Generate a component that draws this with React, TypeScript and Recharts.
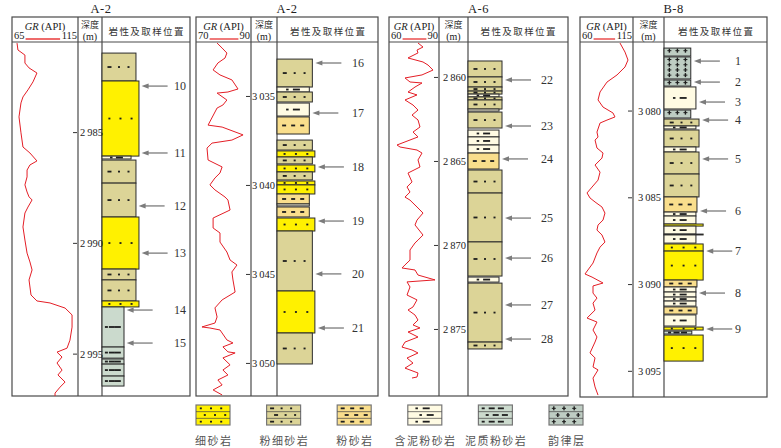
import React from 'react';
import { ScatterChart, ComposedChart, Scatter, XAxis, YAxis, ReferenceArea } from 'recharts';

// ---------- data ----------
type Layer = [number, number, string]; // top depth, bottom depth, lithology key
type GRPt = [number, number]; // depth, GR
type Sample = [number, number]; // sample id, depth

const LITH_KEYS = ['fs', 'sfs', 'ss', 'mss', 'mts', 'rh'];
const LITH_NAMES = ['细砂岩', '粉细砂岩', '粉砂岩', '含泥粉砂岩', '泥质粉砂岩', '韵律层'];

const A2U_TICKS = [2985, 2990, 2995];
const A2U_LAYERS: Layer[] = [
  [2981.41, 2982.67, 'sfs'], [2982.67, 2986.06, 'fs'], [2986.06, 2986.19, 'mss'],
  [2986.24, 2987.28, 'sfs'], [2987.28, 2988.81, 'sfs'], [2988.81, 2991.16, 'fs'],
  [2991.16, 2991.65, 'sfs'], [2991.65, 2992.6, 'sfs'], [2992.6, 2992.87, 'fs'],
  [2992.87, 2994.68, 'mts'], [2994.68, 2995.18, 'mts'], [2995.22, 2995.45, 'mts'],
  [2995.45, 2995.99, 'mts'], [2995.99, 2996.44, 'mts'],
];
const A2U_SAMPLES: Sample[] = [[10, 2982.9], [11, 2985.92], [12, 2988.31], [13, 2990.44], [14, 2993.01], [15, 2994.5]];
const A2U_GR: GRPt[] = [
  [2980.96, 68.8], [2981.27, 69.5], [2981.5, 74.8], [2981.86, 74.8], [2982.08, 77.9], [2982.31, 83.9],
  [2982.71, 80.9], [2983.07, 77.1], [2983.39, 73.3], [2983.66, 71.8], [2984.29, 70.3], [2985.01, 71.8],
  [2985.65, 73.3], [2985.92, 78.6], [2986.28, 83.9], [2986.46, 78.6], [2986.69, 76.4], [2987.0, 76.4],
  [2987.36, 74.8], [2987.68, 76.4], [2987.9, 77.9], [2988.04, 80.2], [2988.36, 77.1], [2988.63, 74.8],
  [2989.26, 73.3], [2989.85, 74.8], [2990.44, 76.4], [2990.84, 78.6], [2991.2, 80.2], [2991.65, 77.9],
  [2992.33, 79.4], [2992.6, 83.9], [2992.69, 93.8], [2992.92, 105.2], [2993.23, 110.5], [2993.78, 110.5],
  [2994.37, 108.9], [2994.73, 106.7], [2994.91, 99.1], [2995.13, 102.9], [2995.4, 99.1], [2995.72, 102.9],
  [2995.94, 99.8], [2996.26, 105.2], [2996.49, 101.4], [2996.76, 97.6], [2996.89, 97.6],
];

const A2L_TICKS = [3035, 3040, 3045, 3050];
const A2L_LAYERS: Layer[] = [
  [3032.9, 3034.47, 'sfs'], [3034.47, 3034.75, 'mss'], [3034.75, 3035.31, 'sfs'],
  [3035.37, 3036.1, 'mss'], [3036.15, 3037.11, 'ss'], [3037.45, 3038.01, 'sfs'],
  [3038.06, 3038.4, 'fs'], [3038.4, 3038.79, 'sfs'], [3038.85, 3039.24, 'fs'],
  [3039.24, 3039.69, 'sfs'], [3039.75, 3039.97, 'fs'], [3039.97, 3040.48, 'fs'],
  [3040.48, 3041.04, 'ss'], [3041.04, 3041.15, 'mss'], [3041.21, 3041.77, 'ss'],
  [3041.83, 3042.56, 'fs'], [3042.56, 3045.93, 'sfs'], [3045.93, 3048.29, 'fs'],
  [3048.29, 3050.03, 'sfs'],
];
const A2L_SAMPLES: Sample[] = [[16, 3033.12], [17, 3035.93], [18, 3038.96], [19, 3042.0], [20, 3044.97], [21, 3048.01]];
const A2L_GR: GRPt[] = [
  [3032.0, 77.2], [3032.28, 79.1], [3032.56, 80.9], [3032.84, 80.2], [3033.12, 77.5], [3033.51, 75.7],
  [3033.79, 78.3], [3034.07, 82.8], [3034.58, 85.1], [3034.75, 81.3], [3034.81, 77.2], [3035.2, 80.9],
  [3035.48, 79.4], [3035.65, 77.2], [3036.61, 73.8], [3036.72, 79.1], [3037.16, 87.0], [3037.45, 82.8],
  [3037.62, 75.3], [3037.9, 73.4], [3038.57, 73.8], [3038.96, 79.1], [3039.3, 78.3], [3039.58, 76.4],
  [3039.97, 74.5], [3040.25, 76.4], [3040.65, 80.2], [3040.82, 81.3], [3041.38, 82.1], [3041.83, 75.7],
  [3042.39, 75.7], [3042.67, 78.3], [3043.18, 78.3], [3043.74, 80.9], [3044.19, 82.1], [3044.47, 84.7],
  [3044.86, 82.8], [3045.31, 83.2], [3045.99, 84.0], [3046.43, 79.1], [3046.88, 76.4], [3047.39, 77.2],
  [3047.73, 76.4], [3047.95, 71.5], [3048.01, 74.5], [3048.12, 78.3], [3048.68, 80.9], [3048.85, 83.2],
  [3049.07, 79.4], [3049.35, 81.3], [3049.41, 84.0], [3049.69, 79.4], [3050.08, 82.1], [3050.37, 79.4],
  [3050.65, 81.3], [3050.93, 77.5], [3051.21, 79.1], [3051.49, 75.7], [3051.77, 79.1],
];

const A6_TICKS = [2860, 2865, 2870, 2875];
const A6_LAYERS: Layer[] = [
  [2859.02, 2859.97, 'sfs'], [2859.97, 2860.57, 'sfs'], [2860.57, 2860.81, 'sfs'],
  [2860.81, 2860.99, 'sfs'], [2860.99, 2861.16, 'mss'], [2861.16, 2861.34, 'sfs'],
  [2861.34, 2861.88, 'sfs'], [2861.88, 2862.0, 'mss'], [2862.06, 2863.01, 'sfs'],
  [2863.13, 2863.54, 'mss'], [2863.54, 2864.02, 'mss'], [2864.02, 2864.5, 'mss'],
  [2864.5, 2865.45, 'ss'], [2865.51, 2866.88, 'sfs'], [2866.88, 2869.79, 'sfs'],
  [2869.79, 2871.82, 'sfs'], [2871.88, 2872.18, 'mss'], [2872.24, 2875.75, 'sfs'],
  [2875.75, 2876.16, 'sfs'],
];
const A6_SAMPLES: Sample[] = [[22, 2860.15], [23, 2862.89], [24, 2864.85], [25, 2868.37], [26, 2870.75], [27, 2873.54], [28, 2875.57]];
const A6_GR: GRPt[] = [
  [2857.95, 77.4], [2858.19, 80.4], [2858.37, 76.8], [2858.54, 77.4], [2858.84, 71.4], [2859.08, 80.4],
  [2859.26, 83.4], [2859.56, 86.4], [2859.85, 79.8], [2860.03, 69.6], [2860.27, 72.6], [2860.33, 79.8],
  [2860.57, 75.6], [2860.87, 71.4], [2861.04, 76.8], [2861.34, 69.6], [2861.64, 74.4], [2861.94, 77.4],
  [2862.24, 73.8], [2862.53, 77.4], [2862.95, 78.6], [2863.25, 74.4], [2863.54, 77.4], [2864.02, 64.8],
  [2864.14, 66.6], [2864.32, 76.8], [2864.5, 79.8], [2864.91, 77.4], [2865.33, 78.6], [2865.69, 71.4],
  [2866.22, 73.8], [2866.52, 70.8], [2866.82, 72.6], [2867.12, 69.6], [2867.3, 72.6], [2867.71, 76.8],
  [2868.07, 80.4], [2868.49, 76.8], [2868.78, 75.6], [2869.38, 80.4], [2869.68, 77.4], [2869.85, 75.6],
  [2870.27, 72.6], [2870.87, 72.6], [2871.16, 69.6], [2871.34, 67.8], [2871.46, 75.6], [2871.76, 77.4],
  [2872.05, 87.6], [2872.17, 70.8], [2872.47, 72.6], [2872.95, 70.8], [2873.24, 76.8], [2873.66, 74.4],
  [2873.84, 71.4], [2874.14, 75.6], [2874.44, 77.4], [2874.73, 74.4], [2874.91, 78.6], [2875.15, 71.4],
  [2875.45, 77.4], [2875.75, 69.6], [2876.05, 67.8], [2876.22, 73.8], [2876.4, 77.4], [2876.7, 70.8],
  [2877.0, 74.4], [2877.3, 69.6], [2877.59, 77.4], [2877.83, 76.8], [2877.89, 73.8],
];

const B8_TICKS = [3080, 3085, 3090, 3095];
const B8_LAYERS: Layer[] = [
  [3076.37, 3076.83, 'rh'], [3076.88, 3078.15, 'rh'], [3078.21, 3078.56, 'rh'],
  [3078.61, 3079.88, 'mss'], [3079.94, 3080.4, 'rh'], [3080.46, 3080.86, 'sfs'],
  [3080.86, 3081.03, 'mss'], [3081.09, 3082.07, 'sfs'], [3082.07, 3082.36, 'mss'],
  [3082.36, 3083.63, 'sfs'], [3083.63, 3084.95, 'sfs'], [3084.95, 3085.82, 'ss'],
  [3085.82, 3086.05, 'mss'], [3086.05, 3086.51, 'mss'], [3086.51, 3086.63, 'fs'],
  [3086.63, 3087.09, 'mss'], [3087.09, 3087.14, 'fs'], [3087.14, 3087.61, 'mss'],
  [3087.66, 3088.07, 'fs'], [3088.07, 3089.74, 'fs'], [3089.74, 3090.14, 'ss'],
  [3090.14, 3090.43, 'mss'], [3090.43, 3090.72, 'mss'], [3090.72, 3090.95, 'mss'],
  [3090.95, 3091.24, 'mss'], [3091.29, 3091.7, 'ss'], [3091.75, 3092.39, 'mss'],
  [3092.45, 3092.62, 'fs'], [3092.68, 3092.85, 'mts'], [3092.91, 3094.41, 'fs'],
];
const B8_SAMPLES: Sample[] = [[1, 3077.12], [2, 3078.33], [3, 3079.48], [4, 3080.52], [5, 3082.76], [6, 3085.76], [7, 3088.07], [8, 3090.49], [9, 3092.56]];
const B8_GR: GRPt[] = [
  [3076.08, 101.5], [3076.6, 106.7], [3077.06, 109.8], [3077.46, 106.7], [3077.92, 98.4], [3078.33, 88.0],
  [3078.9, 80.8], [3079.36, 78.7], [3079.77, 83.9], [3080.11, 94.2], [3080.34, 96.3], [3080.52, 88.0],
  [3080.69, 80.8], [3081.21, 77.6], [3081.5, 78.7], [3081.67, 75.6], [3082.13, 77.6], [3082.42, 83.9],
  [3082.71, 82.8], [3083.11, 75.6], [3083.52, 80.8], [3083.98, 78.7], [3084.38, 72.5], [3084.72, 67.3],
  [3085.01, 70.4], [3085.24, 75.6], [3085.53, 82.8], [3085.88, 85.9], [3086.28, 83.9], [3086.57, 78.7],
  [3086.86, 77.6], [3087.14, 82.8], [3087.55, 85.9], [3087.84, 80.8], [3088.18, 77.6], [3088.76, 73.5],
  [3089.39, 65.2], [3089.57, 72.5], [3089.91, 83.9], [3090.08, 73.5], [3090.49, 73.5], [3090.78, 77.6],
  [3091.07, 73.5], [3091.47, 75.6], [3091.93, 67.3], [3092.16, 77.6], [3092.62, 73.5], [3093.02, 77.6],
  [3093.31, 75.6], [3093.94, 70.4], [3094.23, 75.6], [3094.75, 73.5], [3094.92, 78.7], [3095.39, 73.5],
  [3095.9, 75.6], [3096.37, 78.7],
];

// ---------- styles / layout ----------
const SERIF = "'Liberation Serif','Times New Roman',serif";
const CJK = "'Noto Sans CJK SC','Noto Sans CJK JP',sans-serif";
const FRAME = '#4a4a4a';
const FILL: Record<string, string> = {
  fs: '#FFF100', sfs: '#DCD497', ss: '#F9DE8C', mss: '#FFFBE3', mts: '#CBDACD', rh: '#BECDC3',
};
const SYM: Record<string, Array<[number, number]>> = {
  fs: [[0.2, 2], [0.5, 2], [0.8, 2]],
  sfs: [[0.22, 4], [0.5, 2], [0.78, 2]],
  ss: [[0.22, 4], [0.5, 4], [0.78, 4]],
  mss: [[0.32, 2.5], [0.6, 7]],
  mts: [[0.2, 3], [0.45, 6], [0.72, 6]],
};

const TOP = 17;
const HEAD = 42;

type Panel = {
  title: string; left: number; d1: number; d2: number; right: number; bottom: number;
  gr: [number, number]; grX: [number, number]; depth: [number, number];
  ticks: number[]; layers: Layer[]; samples: Sample[]; grData: GRPt[];
  widths: Record<string, number>; tickDx: number; labelDx: number;
};

const PANELS: Panel[] = [
  {
    title: 'A-2', left: 12, d1: 78, d2: 102, right: 190, bottom: 396,
    gr: [65, 115], grX: [12, 78], depth: [2980.91, 2996.89], ticks: A2U_TICKS,
    layers: A2U_LAYERS, samples: A2U_SAMPLES, grData: A2U_GR,
    widths: { fs: 42, sfs: 38.6, ss: 35, mss: 33, mts: 25, rh: 25 }, tickDx: 2, labelDx: 78,
  },
  {
    title: 'A-2', left: 196, d1: 251, d2: 277, right: 378, bottom: 396,
    gr: [70, 90], grX: [198, 251], depth: [3031.94, 3051.83], ticks: A2L_TICKS,
    layers: A2L_LAYERS, samples: A2L_SAMPLES, grData: A2L_GR,
    widths: { fs: 37.5, sfs: 35, ss: 32, mss: 32, mts: 26, rh: 26 }, tickDx: 1, labelDx: 81,
  },
  {
    title: 'A-6', left: 389, d1: 439, d2: 468, right: 568, bottom: 396,
    gr: [60, 90], grX: [389, 439], depth: [2857.89, 2878.96], ticks: A6_TICKS,
    layers: A6_LAYERS, samples: A6_SAMPLES, grData: A6_GR,
    widths: { fs: 37, sfs: 34, ss: 31, mss: 31, mts: 26, rh: 26 }, tickDx: 4, labelDx: 79,
  },
  {
    title: 'B-8', left: 580, d1: 633, d2: 664, right: 767, bottom: 397,
    gr: [60, 115], grX: [580, 633], depth: [3076.02, 3096.48], ticks: B8_TICKS,
    layers: B8_LAYERS, samples: B8_SAMPLES, grData: B8_GR,
    widths: { fs: 38, sfs: 34, ss: 32, mss: 31, mts: 27, rh: 26 }, tickDx: 5, labelDx: 74,
  },
];

// ---------- drawing helpers ----------
function symbolRow(kind: string, x: number, cy: number, w: number, keyBase: string) {
  const c = '#1e1e1e';
  if (kind === 'rh') {
    return [0.2, 0.5, 0.8].map((p, i) => {
      const xx = x + w * p;
      return (
        <g key={`${keyBase}-${i}`}>
          <rect x={xx - 0.7} y={cy - 2} width={1.4} height={4} fill={c} />
          <rect x={xx - 2} y={cy - 0.5} width={4} height={1} fill={c} />
        </g>
      );
    });
  }
  return (SYM[kind] || []).map(([p, len], i) => (
    <rect key={`${keyBase}-${i}`} x={x + w * p - len / 2} y={cy - 0.9} width={len} height={1.8} fill={c} />
  ));
}

function layerShape(kind: string) {
  return (props: any) => {
    const { x, y, width, height } = props;
    if (x == null || y == null) return <g />;
    const syms: any[] = [];
    if (kind === 'rh') {
      for (let yy = y + 2.6; yy <= y + height - 1.5; yy += 5.2) syms.push(...symbolRow(kind, x, yy, width, `r${yy}`));
    } else if (height >= 2.5) {
      syms.push(...symbolRow(kind, x, y + height / 2, width, 's'));
    }
    return (
      <g>
        <rect x={x} y={y} width={width} height={height} fill={FILL[kind]} stroke="#2b2b2b" strokeWidth={1} />
        {syms}
      </g>
    );
  };
}

function fmtDepth(v: number) {
  const s = String(v);
  return s.slice(0, s.length - 3) + '\u2009' + s.slice(-3);
}

function depthTick(tickDx: number) {
  return (props: any) => {
    const { y, payload } = props;
    return (
      <g>
        <line x1={1} x2={5} y1={y} y2={y} stroke="#333" strokeWidth={1} />
        <text x={6 + tickDx} y={y} dy="0.35em" fontSize={10.5} fontFamily={SERIF} fill="#222" textAnchor="start">
          {fmtDepth(payload.value)}
        </text>
      </g>
    );
  };
}

function arrowShape(labelX: number) {
  return (props: any) => {
    const { cx, cy, payload } = props;
    if (cx == null || cy == null) return <g />;
    return (
      <g>
        <line x1={cx + 5} y1={cy} x2={cx + 26} y2={cy} stroke="#7c7c7c" strokeWidth={1.3} />
        <polygon points={`${cx},${cy} ${cx + 7},${cy - 2.6} ${cx + 7},${cy + 2.6}`} fill="#7c7c7c" />
        <text x={labelX} y={cy} dy="0.36em" textAnchor="middle" fontSize={12} fontFamily={SERIF} fill="#333">
          {payload.id}
        </text>
      </g>
    );
  };
}

function layerAt(layers: Layer[], d: number): Layer {
  const hit = layers.find((l) => d >= l[0] && d <= l[1]);
  if (hit) return hit;
  let best = layers[0];
  let bd = Infinity;
  layers.forEach((l) => {
    const dist = Math.min(Math.abs(d - l[0]), Math.abs(d - l[1]));
    if (dist < bd) { bd = dist; best = l; }
  });
  return best;
}

function PanelCharts({ p }: { p: Panel }) {
  const h = p.bottom - HEAD;
  const grData = p.grData.map(([depth, gr]) => ({ depth, gr }));
  const chartLeft = p.d1 - 6;
  const yW = p.d2 - chartLeft;
  const lithW = p.right - chartLeft;
  const arrows = p.samples.map(([id, depth]) => {
    const l = layerAt(p.layers, depth);
    return { id, y: depth, x: p.widths[l[2]] + 3 };
  });
  return (
    <>
      <div style={{ position: 'absolute', left: p.grX[0], top: HEAD }}>
        <ScatterChart width={p.grX[1] - p.grX[0]} height={h} margin={{ top: 0, right: 0, bottom: 0, left: 0 }}>
          <XAxis type="number" dataKey="gr" domain={p.gr} hide allowDataOverflow />
          <YAxis type="number" dataKey="depth" domain={p.depth} reversed hide width={0} allowDataOverflow />
          <Scatter
            data={grData}
            line={{ stroke: '#E41E26', strokeWidth: 1 }}
            lineType="joint"
            shape={() => <g />}
            isAnimationActive={false}
          />
        </ScatterChart>
      </div>
      <div style={{ position: 'absolute', left: chartLeft, top: HEAD }}>
        <ComposedChart width={lithW} height={h} margin={{ top: 0, right: 0, bottom: 0, left: 0 }}>
          <XAxis type="number" dataKey="x" domain={[0, 100]} hide allowDataOverflow />
          <YAxis
            type="number"
            dataKey="y"
            domain={p.depth}
            reversed
            allowDataOverflow
            width={yW}
            ticks={p.ticks}
            interval={0}
            axisLine={false}
            tickLine={false}
            tick={depthTick(p.tickDx)}
          />
          {p.layers.map(([t, b, k], i) => (
            <ReferenceArea
              key={i}
              x1={0}
              x2={p.widths[k]}
              y1={t}
              y2={b}
              ifOverflow="visible"
              shape={layerShape(k)}
            />
          ))}
          <Scatter data={arrows} shape={arrowShape(yW + p.labelDx)} isAnimationActive={false} />
        </ComposedChart>
      </div>
    </>
  );
}

function PanelFrame({ p }: { p: Panel }) {
  const grMid = (p.left + p.d1) / 2;
  const dMid = (p.d1 + p.d2) / 2;
  const lMid = (p.d2 + p.right) / 2;
  const lo = String(p.gr[0]);
  const hi = String(p.gr[1]);
  const nx0 = p.left + 2;
  const nx1 = p.d1 - 1;
  return (
    <g>
      <text x={(p.left + p.right) / 2} y={13} textAnchor="middle" fontSize={12.5} fontFamily={SERIF} fill="#222" letterSpacing={0.5}>
        {p.title}
      </text>
      <rect x={p.left} y={TOP} width={p.right - p.left} height={p.bottom - TOP} fill="none" stroke={FRAME} strokeWidth={1.2} />
      <line x1={p.left} x2={p.right} y1={HEAD} y2={HEAD} stroke={FRAME} strokeWidth={1.2} />
      <line x1={p.d1} x2={p.d1} y1={TOP} y2={p.bottom} stroke={FRAME} strokeWidth={1.2} />
      <line x1={p.d2} x2={p.d2} y1={TOP} y2={p.bottom} stroke={FRAME} strokeWidth={1.2} />
      <text x={grMid} y={29.5} textAnchor="middle" fontSize={10.5} fontFamily={SERIF} fill="#222">
        <tspan fontStyle="italic">GR</tspan>
        <tspan> (API)</tspan>
      </text>
      <text x={nx0} y={39} textAnchor="start" fontSize={10.5} fontFamily={SERIF} fill="#222">{lo}</text>
      <text x={nx1} y={39} textAnchor="end" fontSize={10.5} fontFamily={SERIF} fill="#222">{hi}</text>
      <line x1={nx0 + lo.length * 5.3 + 1} x2={nx1 - hi.length * 5.3 - 1} y1={39} y2={39} stroke="#EE6B6B" strokeWidth={1.8} />
      <text x={dMid} y={28} textAnchor="middle" fontSize={9} fontFamily={CJK} fill="#333">深度</text>
      <text x={dMid} y={39.5} textAnchor="middle" fontSize={10} fontFamily={SERIF} fill="#222">(m)</text>
      <text x={lMid + 0.7} y={34.5} textAnchor="middle" fontSize={9.5} fontFamily={CJK} fill="#333" letterSpacing={1.4}>
        岩性及取样位置
      </text>
    </g>
  );
}

function LegendIcon({ kind, x, y }: { kind: string; x: number; y: number }) {
  const w = 34;
  const h = 20;
  const rows = [y + h / 6, y + h / 2, y + (5 * h) / 6];
  return (
    <g>
      <rect x={x} y={y} width={w} height={h} fill={FILL[kind]} stroke="#777" strokeWidth={1.2} />
      <line x1={x} x2={x + w} y1={y + h / 3} y2={y + h / 3} stroke="#444" strokeWidth={0.7} />
      <line x1={x} x2={x + w} y1={y + (2 * h) / 3} y2={y + (2 * h) / 3} stroke="#444" strokeWidth={0.7} />
      {rows.map((cy, i) => (
        <g key={i}>{symbolRow(kind, x + (i % 2 ? 2 : -2), cy, w, `lg${i}`)}</g>
      ))}
    </g>
  );
}

export default function App() {
  return (
    <div style={{ position: 'absolute', left: 0, top: 0, width: 781, height: 448, background: '#fff', overflow: 'hidden' }}>
      <svg width={781} height={448} style={{ position: 'absolute', left: 0, top: 0 }}>
        {PANELS.map((p, i) => (
          <PanelFrame key={i} p={p} />
        ))}
        {LITH_KEYS.map((k, i) => {
          const x = 196 + i * 70.6;
          return (
            <g key={k}>
              <LegendIcon kind={k} x={x} y={405} />
              <text x={x + 17 + 0.7} y={445} textAnchor="middle" fontSize={11} fontFamily={CJK} fill="#555" letterSpacing={1.4}>
                {LITH_NAMES[i]}
              </text>
            </g>
          );
        })}
      </svg>
      {PANELS.map((p, i) => (
        <PanelCharts key={i} p={p} />
      ))}
    </div>
  );
}
